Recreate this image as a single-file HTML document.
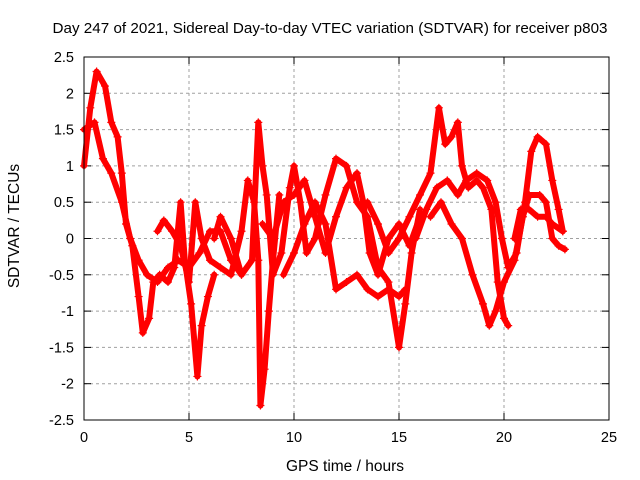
<!DOCTYPE html>
<html><head><meta charset="utf-8">
<style>
html,body{margin:0;padding:0;background:#fff;}
svg{display:block;font-family:"Liberation Sans",sans-serif;}
</style></head>
<body>
<svg id="chart" width="640" height="480" viewBox="0 0 640 480">
<rect width="640" height="480" fill="#fff"/>
<text x="330" y="33" font-size="15.2" text-anchor="middle" fill="#000" textLength="555">Day 247 of 2021, Sidereal Day-to-day VTEC variation (SDTVAR) for receiver p803</text>
<text x="345" y="471" font-size="15.5" text-anchor="middle" fill="#000">GPS time / hours</text>
<text transform="translate(19,226) rotate(-90)" font-size="15.5" text-anchor="middle" fill="#000">SDTVAR / TECUs</text>
<g id="grid"></g>
<g id="ticks"></g>
<g id="marks"></g>
<rect x="84" y="57" width="525" height="363" fill="none" stroke="#000" stroke-width="1"/>
</svg>
<script>
const xTicks=[0,5,10,15,20,25];
const yTicks=[2.5,2,1.5,1,0.5,0,-0.5,-1,-1.5,-2,-2.5];
const arc1=[[0,1.0],[0.3,1.8],[0.6,2.3],[1.0,2.1],[1.3,1.6],[1.6,1.4],[1.8,0.9],[2.0,0.2],[2.3,-0.1],[2.6,-0.8],[2.8,-1.3],[3.1,-1.1],[3.3,-0.6],[3.6,-0.5],[4.0,-0.6],[4.3,-0.4],[4.6,0.5],[4.8,-0.3],[5.1,-0.9],[5.4,-1.9],[5.6,-1.2],[5.9,-0.8],[6.2,-0.5]];
const arc2=[[0,1.5],[0.5,1.6],[0.9,1.1],[1.3,0.9],[1.8,0.5],[2.2,0.0],[2.6,-0.3],[3.0,-0.5],[3.5,-0.6],[4.0,-0.4],[4.5,-0.3],[5.0,-0.4],[5.5,-0.2],[6.0,0.1],[6.5,0.1],[7.0,-0.3],[7.5,-0.5]];
const arc3=[[3.5,0.1],[3.8,0.25],[4.2,0.1],[4.6,-0.1],[5.0,-0.6],[5.3,0.5],[5.6,0.0],[6.0,-0.3],[6.5,-0.4],[7.0,-0.5],[7.5,0.1],[7.8,0.8],[8.1,0.5],[8.3,-0.3],[8.4,-2.3],[8.6,-1.8],[8.8,-1.0],[9.0,-0.3],[9.3,0.6]];
const arc4=[[6.2,0.0],[6.5,0.3],[7.0,0.0],[7.5,-0.5],[8.0,-0.3],[8.3,1.6],[8.5,1.0],[8.7,0.6],[9.0,-0.5],[9.4,-0.2],[9.8,0.7],[10.0,1.0],[10.3,0.5],[10.6,-0.2],[11.0,0.0],[11.5,0.6],[12.0,1.1],[12.5,1.0],[13.0,0.5],[13.5,0.3],[14.0,-0.4],[14.5,-0.6],[15.0,-1.5],[15.3,-0.9],[15.6,-0.2],[16.0,0.4]];
const arc5=[[8.5,0.2],[9.0,0.0],[9.5,0.5],[10.0,0.6],[10.5,0.8],[11.0,0.3],[11.5,-0.2],[12.0,0.3],[12.5,0.7],[13.0,0.9],[13.3,0.5],[13.6,-0.2],[14.0,-0.5],[14.5,0.0],[15.0,0.2],[15.5,-0.1],[16.0,0.3]];
const arc6=[[9.5,-0.5],[10.0,-0.2],[10.5,0.2],[11.0,0.5],[11.5,0.2],[12.0,-0.7],[12.5,-0.6],[13.0,-0.5],[13.5,-0.7],[14.0,-0.8],[14.5,-0.7],[15.0,-0.8],[15.3,-0.7]];
const arc7=[[13.5,0.5],[14.0,0.2],[14.5,-0.2],[15.0,0.0],[15.5,0.3],[16.0,0.6],[16.5,0.9],[16.9,1.8],[17.2,1.3],[17.5,1.4],[17.8,1.6],[18.0,1.0],[18.3,0.7],[18.7,0.8],[19.0,0.7],[19.4,0.4],[19.7,-0.6],[20.0,-1.1],[20.2,-1.2]];
const arc8=[[15.8,0.0],[16.3,0.4],[16.8,0.7],[17.3,0.8],[17.8,0.6],[18.2,0.8],[18.7,0.9],[19.2,0.8],[19.6,0.5],[19.9,0.0],[20.2,-0.4],[20.6,-0.2],[21.0,0.5],[21.3,1.2],[21.6,1.4],[22.0,1.3],[22.3,0.8],[22.6,0.4],[22.8,0.1]];
const arc9=[[16.5,0.3],[17.0,0.5],[17.5,0.2],[18.0,0.0],[18.5,-0.5],[19.0,-0.9],[19.3,-1.2],[19.6,-1.0],[20.0,-0.6],[20.5,-0.3],[20.9,0.3],[21.2,0.6],[21.7,0.6],[22.0,0.5],[22.3,0.0],[22.6,-0.1],[22.9,-0.15]];
const arc10=[[20.5,0.0],[20.8,0.4],[21.2,0.4],[21.6,0.3],[22.0,0.3],[22.3,0.2],[22.8,0.1]];
const series=[arc1,arc2,arc3,arc4,arc5,arc6,arc7,arc8,arc9,arc10];

const NS="http://www.w3.org/2000/svg";
const X0=84,X1=609,Y0=420,Y1=57;
function sx(v){return X0+(v-0)/(25-0)*(X1-X0);}
function sy(v){return Y0-(v+2.5)/(5)*(Y0-Y1);}
function mk(t,a,p){const e=document.createElementNS(NS,t);for(const k in a)e.setAttribute(k,a[k]);p.appendChild(e);return e;}
const grid=document.getElementById('grid'),ticks=document.getElementById('ticks'),marks=document.getElementById('marks');
xTicks.forEach(v=>{
  const x=sx(v);
  if(v>0&&v<25){const g=mk('line',{x1:x,x2:x,y1:Y1,y2:Y0,stroke:'#a0a0a0','stroke-dasharray':'3,3'},grid);
  
  }
  mk('line',{x1:x,x2:x,y1:Y0,y2:Y0-7,stroke:'#000'},ticks);
  mk('line',{x1:x,x2:x,y1:Y1,y2:Y1+7,stroke:'#000'},ticks);
  const t=mk('text',{x:x,y:Y0+22,'font-size':14.5,'text-anchor':'middle'},ticks);t.textContent=v;
  
  
});
yTicks.forEach(v=>{
  const y=sy(v);
  if(v>-2.5&&v<2.5){const g=mk('line',{x1:X0,x2:X1,y1:y,y2:y,stroke:'#a0a0a0','stroke-dasharray':'3,3'},grid);
  
  }
  mk('line',{x1:X0,x2:X0+7,y1:y,y2:y,stroke:'#000'},ticks);
  mk('line',{x1:X1,x2:X1-7,y1:y,y2:y,stroke:'#000'},ticks);
  const t=mk('text',{x:X0-10,y:y+5,'font-size':14.5,'text-anchor':'end'},ticks);t.textContent=v;
  
  
});
series.forEach((s,i)=>{
  const pts=s.map(p=>sx(p[0])+','+sy(p[1])).join(' ');
  const pl=mk('polyline',{points:pts,fill:'none',stroke:'#ff0000','stroke-width':6,'stroke-linejoin':'round','stroke-linecap':'round'},marks);
  
  
  s.forEach(p=>{
    const x=sx(p[0]),y=sy(p[1]);
    const m=mk('path',{d:`M${x-4},${y}H${x+4}M${x},${y-4}V${y+4}`,stroke:'#ff0000','stroke-width':1.2},marks);
    
    
  });
});
</script>
</body></html>
